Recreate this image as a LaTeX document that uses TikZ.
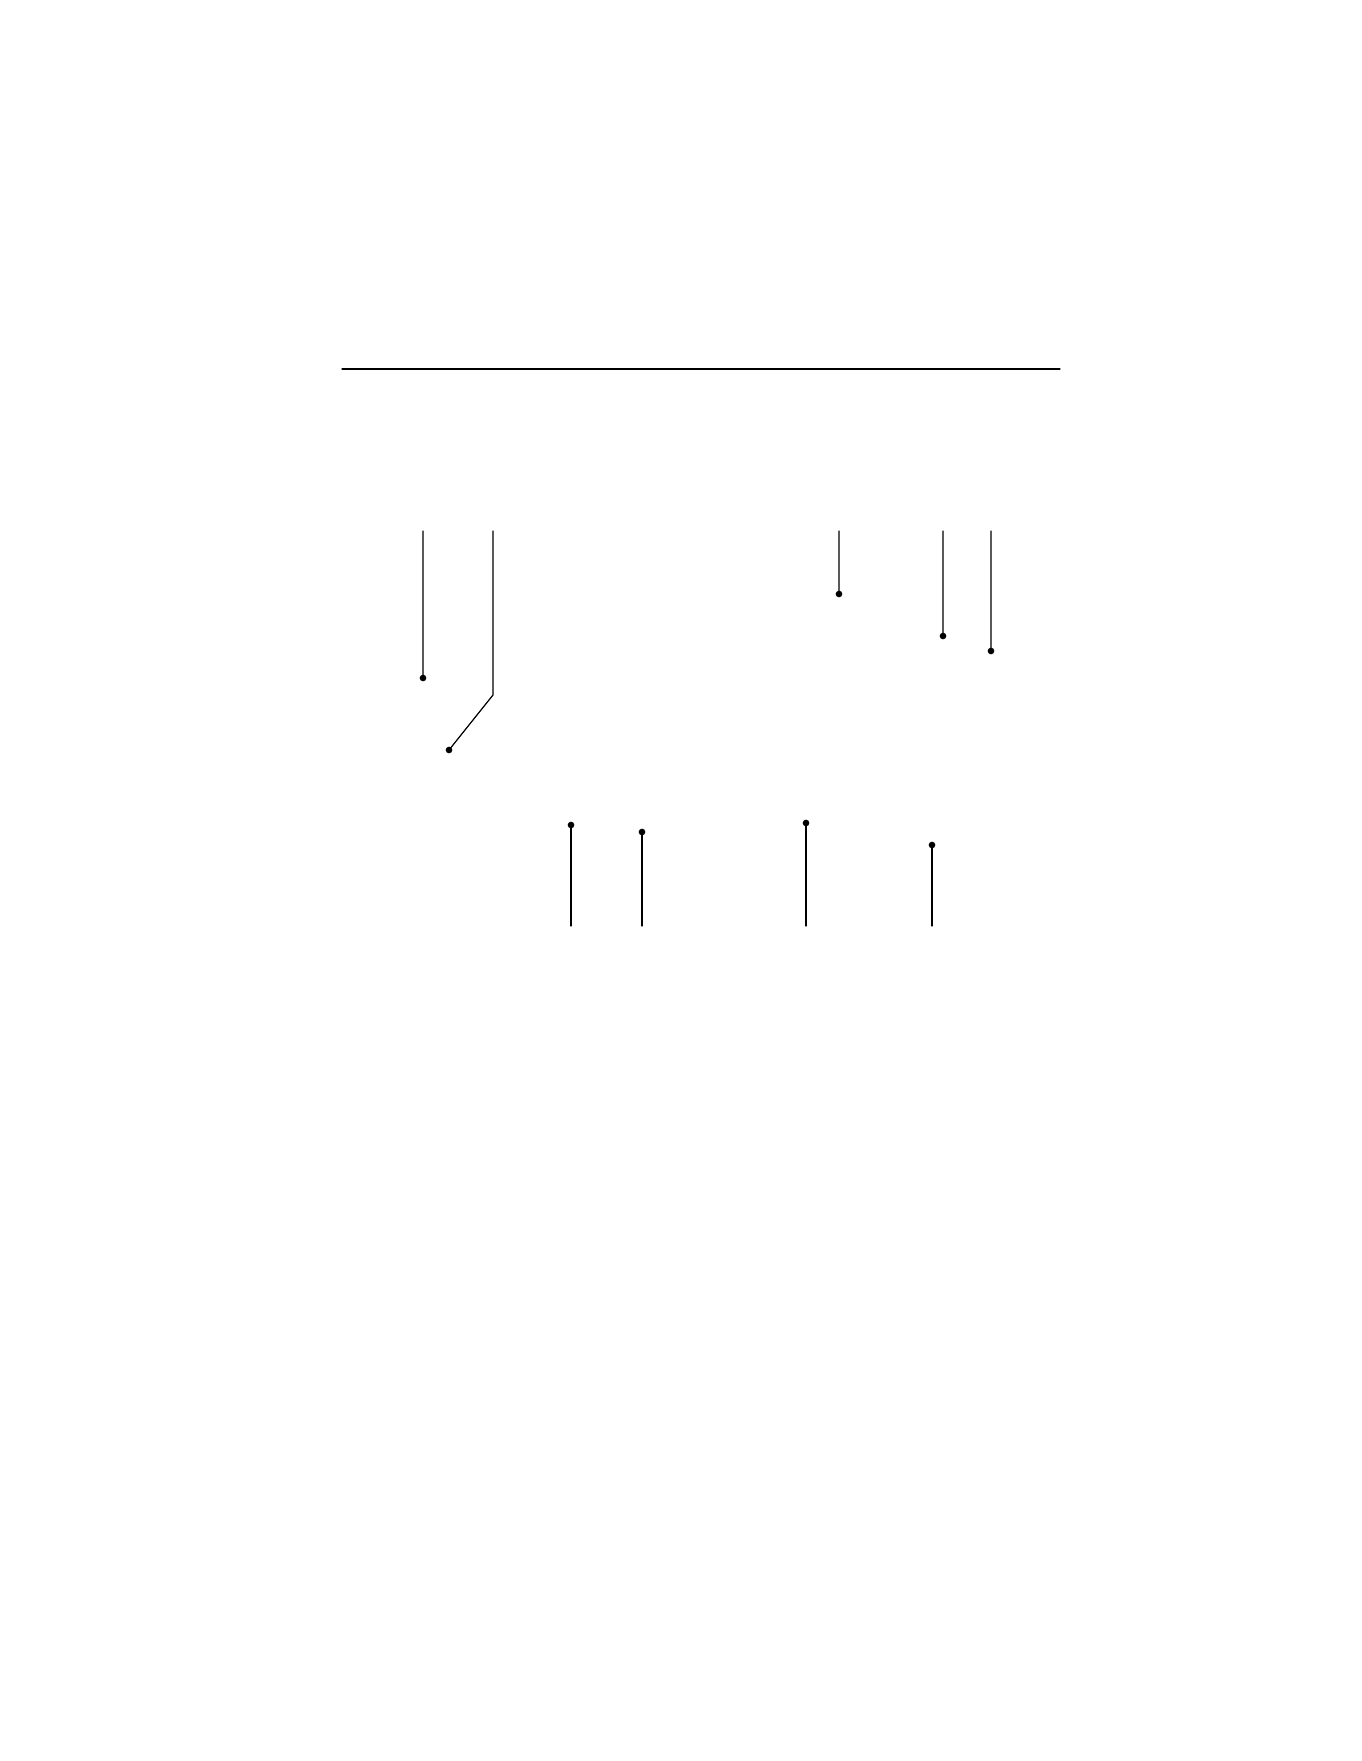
\documentclass[tikz,border=0pt]{standalone}
\usetikzlibrary{calc}
\tikzset{dot/.style={fill=black}}

\begin{document}
\begin{tikzpicture}[x=0.45pt,y=-0.45pt,line width=0.55pt,line cap=round,line join=round]
  \useasboundingbox (0,0) rectangle (1361,1761);
  \coordinate (ruleL) at (342,369);
  \coordinate (ruleR) at (1060,369);
  \draw (ruleL) -- (ruleR);

  % leaders from above
  \coordinate (a1) at (423,531); \coordinate (p1) at (423,678);
  \coordinate (a2) at (493,531); \coordinate (k2) at (493,695); \coordinate (p2) at (449,750);
  \coordinate (a3) at (839,531); \coordinate (p3) at (839,594);
  \coordinate (a4) at (943,531); \coordinate (p4) at (943,636);
  \coordinate (a5) at (991,531); \coordinate (p5) at (991,651);
  \draw (a1) -- (p1) (a2) -- (k2) -- (p2) (a3) -- (p3) (a4) -- (p4) (a5) -- (p5);

  % leaders from below
  \coordinate (b1) at (571,926); \coordinate (q1) at (571,825);
  \coordinate (b2) at (642,926); \coordinate (q2) at (642,832);
  \coordinate (b3) at (806,926); \coordinate (q3) at (806,823);
  \coordinate (b4) at (932,926); \coordinate (q4) at (932,845);
  \draw (b1) -- (q1) (b2) -- (q2) (b3) -- (q3) (b4) -- (q4);

  \fill[dot] (p1) circle (1.5pt) (p2) circle (1.5pt) (p3) circle (1.5pt)
    (p4) circle (1.5pt) (p5) circle (1.5pt) (q1) circle (1.5pt)
    (q2) circle (1.5pt) (q3) circle (1.5pt) (q4) circle (1.5pt);
\end{tikzpicture}
\end{document}
